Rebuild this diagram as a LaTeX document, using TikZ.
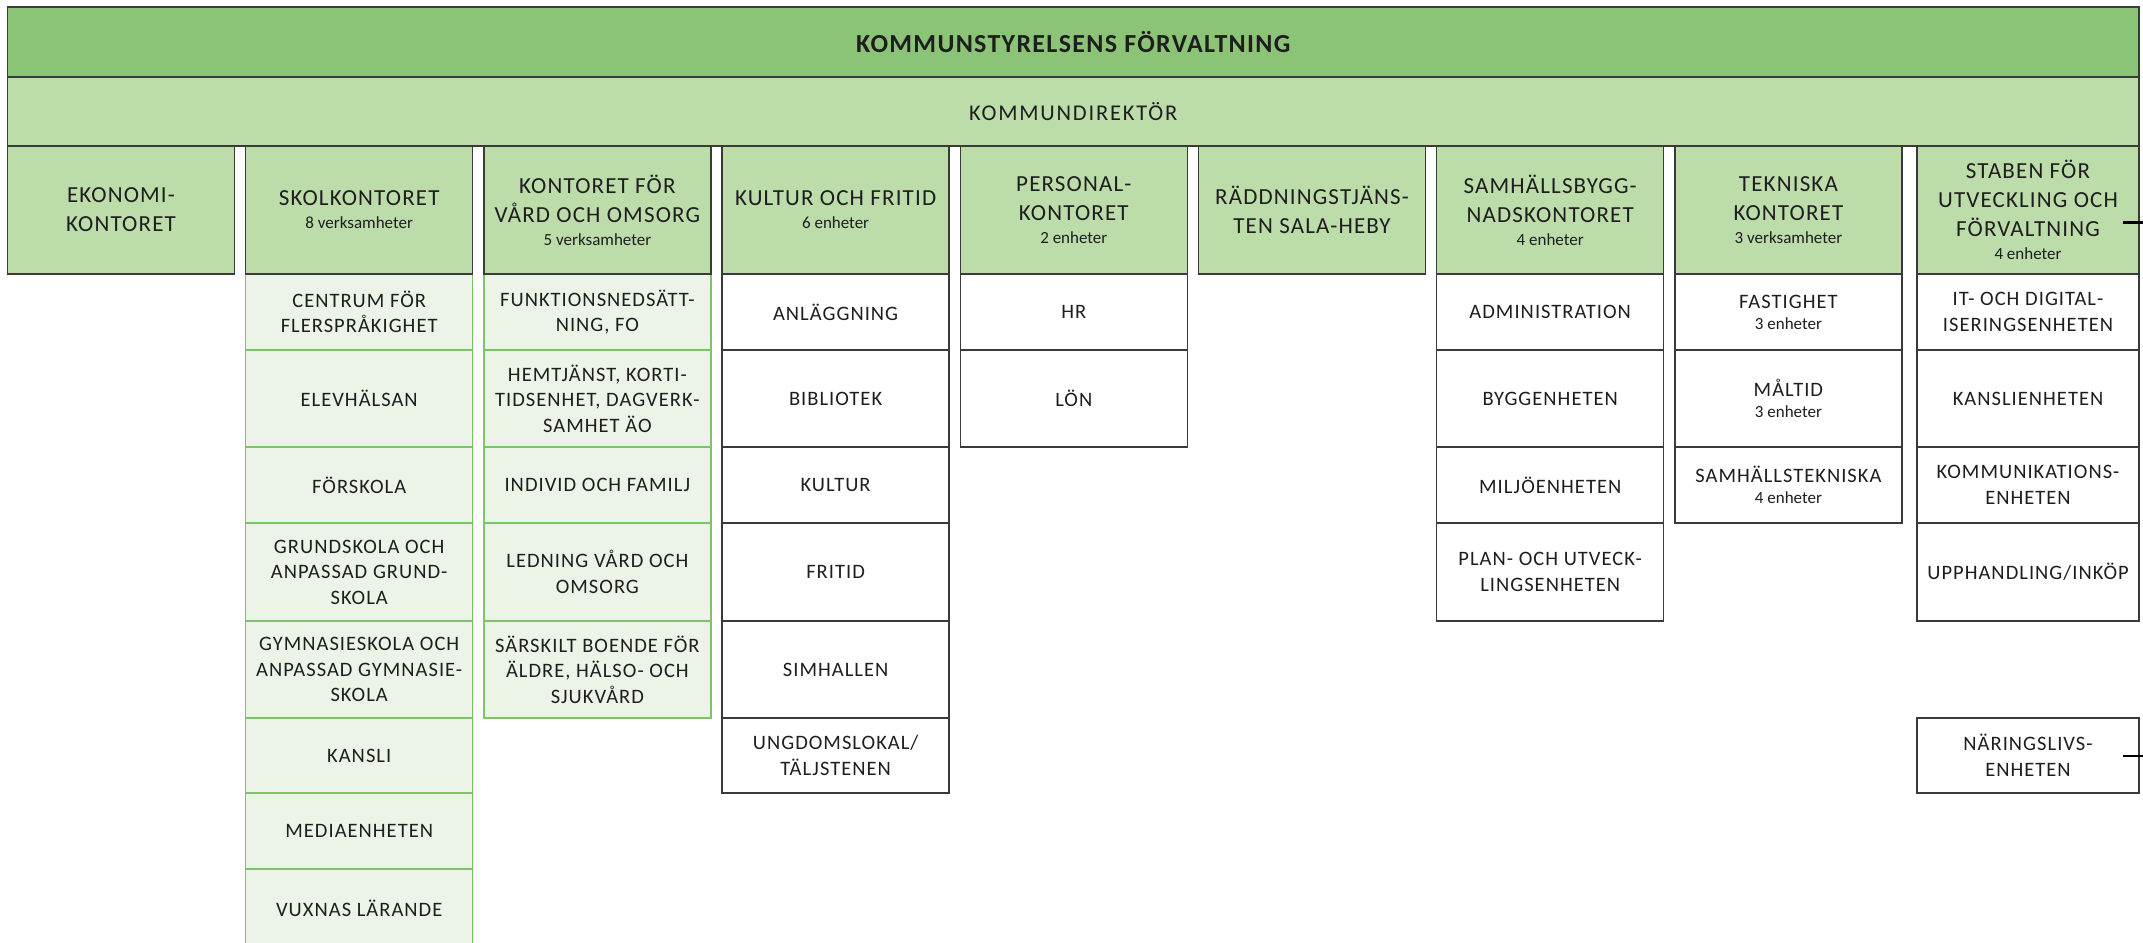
\documentclass[tikz,border=0pt]{standalone}
\usepackage{fontspec}
\setmainfont{Carlito}
\newfontfamily\spaced[LetterSpace=5]{Carlito}
\newfontfamily\widespaced[LetterSpace=8]{Carlito}
\newcommand\smtxt{\rmfamily\fontsize{17}{20}\selectfont}
\definecolor{dg}{HTML}{8BC476}
\definecolor{lg}{HTML}{BCDCAA}
\definecolor{pg}{HTML}{EBF4E6}
\definecolor{gb}{HTML}{7CC36A}
\definecolor{dk}{HTML}{3A3A3A}
\definecolor{txt}{HTML}{1E1E1E}
\tikzset{
  base/.style={anchor=north west, inner sep=0pt, outer sep=0pt, align=center, text=txt, line width=1.5pt},
  bar/.style={base, draw=dk, minimum width=2131.5pt},
  hdr/.style={base, draw=dk, fill=lg, minimum width=227pt, minimum height=128pt, font=\spaced\fontsize{23}{29}\selectfont},
  gsub/.style={base, draw=gb, fill=pg, minimum width=227pt, font=\spaced\fontsize{20.5}{25.5}\selectfont},
  wsub/.style={base, draw=dk, fill=white, minimum width=227pt, font=\spaced\fontsize{20.5}{25.5}\selectfont},
  hA/.style={minimum height=76pt},
  hB/.style={minimum height=97pt},
  hC/.style={minimum height=76pt},
  hD/.style={minimum height=98pt},
  hE/.style={minimum height=97pt},
  hF/.style={minimum height=75pt},
  hG/.style={minimum height=76pt},
  hH/.style={minimum height=78pt},
  tick/.style={draw=black, line width=2.8pt}
}
\begin{document}
\begin{tikzpicture}[x=1pt,y=-1pt]
\useasboundingbox (0,0) rectangle (2143,942);
% top bars
\node[bar, fill=dg, minimum height=70pt, font=\spaced\bfseries\fontsize{26}{30}\selectfont] (ks) at (7.5,7) {KOMMUNSTYRELSENS FÖRVALTNING};
\node[bar, fill=lg, minimum height=69pt, font=\widespaced\fontsize{22.5}{27}\selectfont] (kd) at (7.5,77) {KOMMUNDIREKTÖR};

% SKOLKONTORET subs (green)
\node[gsub,hA] (s1) at (245.7,274) {CENTRUM FÖR\\FLERSPRÅKIGHET};
\node[gsub,hB] (s2) at (245.7,350) {ELEVHÄLSAN};
\node[gsub,hC] (s3) at (245.7,447) {FÖRSKOLA};
\node[gsub,hD] (s4) at (245.7,523) {GRUNDSKOLA OCH\\ANPASSAD GRUND-\\SKOLA};
\node[gsub,hE] (s5) at (245.7,621) {GYMNASIESKOLA OCH\\ANPASSAD GYMNASIE-\\SKOLA};
\node[gsub,hF] (s6) at (245.7,718) {KANSLI};
\node[gsub,hG] (s7) at (245.7,793) {MEDIAENHETEN};
\node[gsub,hH] (s8) at (245.7,869) {VUXNAS LÄRANDE};

% VÅRD subs (green)
\node[gsub,hA] (v1) at (483.9,274) {FUNKTIONSNEDSÄTT-\\NING, FO};
\node[gsub,hB] (v2) at (483.9,350) {HEMTJÄNST, KORTI-\\TIDSENHET, DAGVERK-\\SAMHET ÄO};
\node[gsub,hC] (v3) at (483.9,447) {INDIVID OCH FAMILJ};
\node[gsub,hD] (v4) at (483.9,523) {LEDNING VÅRD OCH\\OMSORG};
\node[gsub,hE] (v5) at (483.9,621) {SÄRSKILT BOENDE FÖR\\ÄLDRE, HÄLSO- OCH\\SJUKVÅRD};

% KULTUR subs
\node[wsub,hA] (k1) at (722.1,274) {ANLÄGGNING};
\node[wsub,hB] (k2) at (722.1,350) {BIBLIOTEK};
\node[wsub,hC] (k3) at (722.1,447) {KULTUR};
\node[wsub,hD] (k4) at (722.1,523) {FRITID};
\node[wsub,hE] (k5) at (722.1,621) {SIMHALLEN};
\node[wsub,hF] (k6) at (722.1,718) {UNGDOMSLOKAL/\\TÄLJSTENEN};

% PERSONAL subs
\node[wsub,hA] (p1) at (960.3,274) {HR};
\node[wsub,hB] (p2) at (960.3,350) {LÖN};

% SAMHÄLLSBYGG subs
\node[wsub,hA] (m1) at (1436.7,274) {ADMINISTRATION};
\node[wsub,hB] (m2) at (1436.7,350) {BYGGENHETEN};
\node[wsub,hC] (m3) at (1436.7,447) {MILJÖENHETEN};
\node[wsub,hD] (m4) at (1436.7,523) {PLAN- OCH UTVECK-\\LINGSENHETEN};

% TEKNISKA subs
\node[wsub,hA] (t1) at (1674.9,274) {FASTIGHET\\[-4.5pt]{\smtxt 3 enheter}};
\node[wsub,hB] (t2) at (1674.9,350) {MÅLTID\\[-4.5pt]{\smtxt 3 enheter}};
\node[wsub,hC] (t3) at (1674.9,447) {SAMHÄLLSTEKNISKA\\[-4.5pt]{\smtxt 4 enheter}};

% STABEN subs
\node[wsub,hA,minimum width=222pt] (u1) at (1917,274) {IT- OCH DIGITAL-\\ISERINGSENHETEN};
\node[wsub,hB,minimum width=222pt] (u2) at (1917,350) {KANSLIENHETEN};
\node[wsub,hC,minimum width=222pt] (u3) at (1917,447) {KOMMUNIKATIONS-\\ENHETEN};
\node[wsub,hD,minimum width=222pt] (u4) at (1917,523) {UPPHANDLING/INKÖP};
\node[wsub,hF,minimum width=222pt] (u6) at (1917,718) {NÄRINGSLIVS-\\ENHETEN};

% header boxes
\node[hdr] (ekon) at (7.5,146) {EKONOMI-\\KONTORET};
\node[hdr] (skol) at (245.7,146) {SKOLKONTORET\\[-6pt]{\smtxt 8 verksamheter}};
\node[hdr] (vard) at (483.9,146) {KONTORET FÖR\\VÅRD OCH OMSORG\\[-6pt]{\smtxt 5 verksamheter}};
\node[hdr] (kult) at (722.1,146) {KULTUR OCH FRITID\\[-6pt]{\smtxt 6 enheter}};
\node[hdr] (pers) at (960.3,146) {PERSONAL-\\KONTORET\\[-6pt]{\smtxt 2 enheter}};
\node[hdr] (radd) at (1198.5,146) {RÄDDNINGSTJÄNS-\\TEN SALA-HEBY};
\node[hdr] (samh) at (1436.7,146) {SAMHÄLLSBYGG-\\NADSKONTORET\\[-6pt]{\smtxt 4 enheter}};
\node[hdr] (tekn) at (1674.9,146) {TEKNISKA\\KONTORET\\[-6pt]{\smtxt 3 verksamheter}};
\node[hdr,minimum width=222pt] (stab) at (1917,146) {STABEN FÖR\\UTVECKLING OCH\\FÖRVALTNING\\[-6pt]{\smtxt 4 enheter}};

% right-hand ticks
\coordinate (tA1) at (2123,222.7);
\coordinate (tA2) at (2146,222.7);
\coordinate (tB1) at (2123,756);
\coordinate (tB2) at (2146,756);
\draw[tick] (tA1) -- (tA2);
\draw[tick] (tB1) -- (tB2);
\end{tikzpicture}
\end{document}
